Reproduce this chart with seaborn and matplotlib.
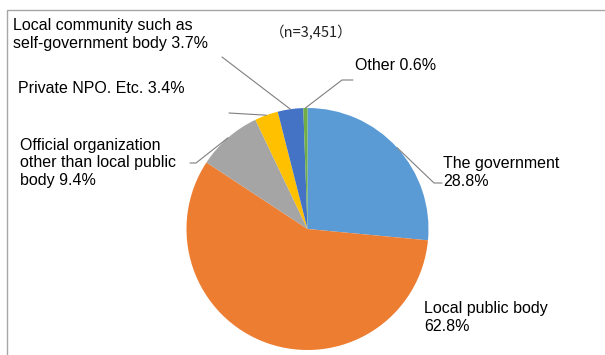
import numpy as np
import matplotlib
matplotlib.use("Agg")
import matplotlib.pyplot as plt
import seaborn as sns
from matplotlib.patches import Rectangle

# Survey: who should lead the effort (n=3,451)
categories = [
    "The government",
    "Local public body",
    "Official organization\nother than local public\nbody",
    "Private NPO. Etc.",
    "Local community such as\nself-government body",
    "Other",
]
values = [28.8, 62.8, 9.4, 3.4, 3.7, 0.6]
colors = ["#5B9BD5", "#ED7D31", "#A5A5A5", "#FFC000", "#4472C4", "#70AD47"]
sample_note = "（n=3,451）"

sns.set_theme(style="white")
plt.rcParams["font.family"] = ["Liberation Sans", "DejaVu Sans"]

W, H = 605, 355
fig = plt.figure(figsize=(W / 100, H / 100), dpi=100)
ax = fig.add_axes([0, 0, 1, 1])


def Y(y):
    """Convert a top-down pixel row into the axes' upward data coordinate."""
    return H - y


cx, cy, r = 307.5, Y(229), 121
wedges, _ = ax.pie(
    values,
    colors=sns.color_palette(colors),
    startangle=90,
    counterclock=False,
    center=(cx, cy),
    radius=r,
    wedgeprops=dict(linewidth=0),
)
ax.set_xlim(0, W)
ax.set_ylim(0, H)
ax.set_aspect("equal")
ax.axis("off")

# chart frame
ax.add_patch(Rectangle((7, -50), 700, Y(10) + 50, fill=False,
                       edgecolor="#A6A6A6", linewidth=1.0, clip_on=False))


def edge_point(w):
    mid = np.deg2rad((w.theta1 + w.theta2) / 2)
    return cx + r * np.cos(mid), cy + r * np.sin(mid)


fs = 11.5
line_kw = dict(color="#7F7F7F", linewidth=0.8)

# label text position (left x, centre y) and leader path for each slice
label_pos = [(443, 172.5), (424, 317.5), (20, 163), (18.5, 88.5), (13, 34.5), (355, 65)]
leader_paths = [
    [(434, 183), (442, 183)],
    None,
    [(196, 163), (190, 163)],
    [(229, 113)],
    [(222, 57)],
    [(342, 80), (353, 80)],
]

for w, name, val, (tx, ty), path in zip(wedges, categories, values, label_pos, leader_paths):
    sep = "\n" if name in ("The government", "Local public body") else " "
    ax.text(tx, Y(ty), f"{name}{sep}{val}%", fontsize=fs, color="black",
            ha="left", va="center", linespacing=1.2)
    if path:
        x0, y0 = edge_point(w)
        xs = [x0] + [p[0] for p in path]
        ys = [y0] + [Y(p[1]) for p in path]
        ax.plot(xs, ys, **line_kw)

ax.text(270, Y(33), sample_note, fontsize=10.5, color="#222222", ha="left", va="center",
        family=["Noto Sans CJK JP", "DejaVu Sans"])

fig.savefig("out.png", dpi=100)
